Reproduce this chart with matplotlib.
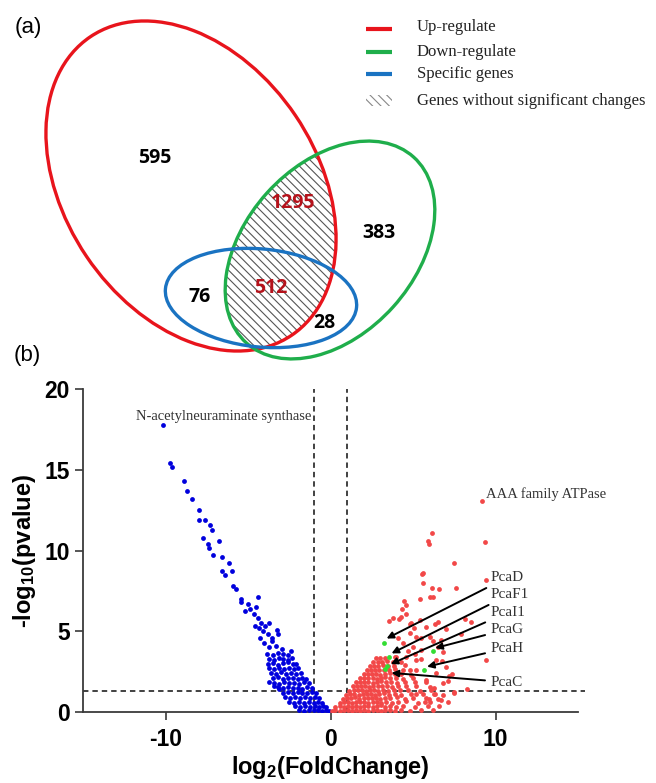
import matplotlib
matplotlib.use('Agg')
import matplotlib.pyplot as plt
from matplotlib.patches import Ellipse, Rectangle

plt.rcParams['axes.unicode_minus'] = False
plt.rcParams['hatch.linewidth'] = 0.8
plt.rcParams['mathtext.fontset'] = 'custom'
plt.rcParams['mathtext.rm'] = 'Liberation Sans:bold'
plt.rcParams['mathtext.default'] = 'regular'

# ---- panel (a) data: venn counts ----
venn_labels = ['595', '1295', '383', '76', '512', '28']
venn_colors = ['black', '#b5121b', 'black', 'black', '#b5121b', 'black']
legend_labels = ['Up-regulate', 'Down-regulate', 'Specific genes',
                 'Genes without significant changes']

# ---- panel (b) data: volcano points ----
blue_tail_x = [-10.15, -9.7, -9.6, -8.85, -8.7, -8.4, -7.95, -8.0, -7.6, -7.3,
               -7.75, -7.2, -7.4, -7.35, -6.75, -7.1, -6.55, -6.15, -6.55, -6.4,
               -5.95, -5.9, -5.75, -5.45, -5.4, -5.0, -5.2, -4.85, -4.65, -4.4,
               -4.5, -4.4, -4.2, -4.6, -4.35, -3.95, -3.7, -4.1, -3.8, -3.25,
               -3.2, -3.55, -3.75, -4.05, -3.3, -2.95, -3.7, -3.4, -3.1, -4.3,
               -2.4, -3.55]
blue_tail_y = [17.8, 15.4, 15.2, 14.3, 13.7, 13.2, 12.5, 11.9, 11.9, 11.6,
               10.8, 11.3, 10.4, 10.15, 10.6, 9.7, 9.6, 9.2, 8.7, 8.5,
               8.7, 7.8, 7.6, 7.0, 6.8, 6.7, 6.25, 6.35, 6.05, 7.1,
               6.5, 5.85, 5.5, 5.3, 5.2, 5.3, 5.5, 5.0, 4.8, 5.1,
               4.85, 4.4, 4.0, 4.3, 4.1, 3.9, 1.85, 1.6, 1.4, 4.6,
               3.8, 4.6]
blue_core_x = [-3.85, -3.5, -3.2, -2.9, -2.6,
               -3.75, -3.45, -3.15, -2.85, -2.55, -2.35,
               -3.8, -3.5, -3.2, -2.9, -2.6, -2.3, -2.1,
               -3.7, -3.4, -3.1, -2.8, -2.5, -2.2, -1.95,
               -3.6, -3.3, -3.0, -2.7, -2.4, -2.1, -1.8,
               -3.5, -3.2, -2.9, -2.6, -2.3, -2.0, -1.7, -1.5,
               -3.45, -3.1, -2.8, -2.5, -2.2, -1.9, -1.6, -1.3,
               -3.2, -2.9, -2.6, -2.3, -2.0, -1.7, -1.4, -1.1,
               -2.9, -2.6, -2.3, -2.0, -1.7, -1.4, -1.15, -0.9,
               -2.75, -2.45, -2.15, -1.85, -1.55, -1.25, -0.95, -0.7,
               -2.5, -2.2, -1.9, -1.6, -1.3, -1.0, -0.75, -0.5,
               -2.15, -1.85, -1.55, -1.25, -0.95, -0.7, -0.45, -0.25,
               -1.9, -1.6, -1.3, -1.0, -0.75, -0.5, -0.3, -0.1]
blue_core_y = [3.62, 3.55, 3.68, 3.58, 3.5,
               3.3, 3.24, 3.36, 3.28, 3.2, 3.35,
               2.98, 3.05, 2.94, 3.02, 3.08, 2.96, 3.0,
               2.72, 2.66, 2.75, 2.68, 2.74, 2.65, 2.7,
               2.42, 2.36, 2.45, 2.38, 2.4, 2.34, 2.41,
               2.08, 2.14, 2.05, 2.12, 2.1, 2.06, 2.13, 2.02,
               1.82, 1.76, 1.84, 1.78, 1.81, 1.75, 1.83, 1.77,
               1.52, 1.46, 1.55, 1.48, 1.51, 1.45, 1.53, 1.47,
               1.18, 1.24, 1.16, 1.22, 1.2, 1.15, 1.23, 1.17,
               0.92, 0.86, 0.94, 0.88, 0.9, 0.85, 0.93, 0.87,
               0.62, 0.56, 0.64, 0.58, 0.6, 0.55, 0.63, 0.57,
               0.36, 0.32, 0.38, 0.33, 0.35, 0.31, 0.37, 0.33,
               0.12, 0.09, 0.14, 0.1, 0.13, 0.08, 0.11, 0.06]

red_core_x = [0.1, 0.3, 0.55, 0.8, 1.05, 1.3, 1.55, 1.8, 2.05, 2.3, 2.55, 2.8, 3.05, 3.3, 3.6, 3.9, 4.3, 4.8, 5.5, 6.2,
              0.3, 0.55, 0.8, 1.05, 1.3, 1.55, 1.8, 2.05, 2.3, 2.55, 2.8, 3.05, 3.3, 3.6, 3.95, 4.4, 5.1, 5.9, 6.6,
              0.55, 0.8, 1.05, 1.3, 1.55, 1.8, 2.05, 2.3, 2.55, 2.8, 3.05, 3.35, 3.7, 4.1, 4.6, 5.3, 6.0, 7.1,
              0.75, 1.0, 1.25, 1.5, 1.75, 2.0, 2.25, 2.5, 2.75, 3.0, 3.3, 3.6, 4.0, 4.5, 5.0, 5.8, 6.5,
              0.95, 1.2, 1.45, 1.7, 1.95, 2.2, 2.45, 2.7, 2.95, 3.25, 3.55, 3.9, 4.3, 4.9, 5.6, 6.3, 7.5,
              1.15, 1.4, 1.65, 1.9, 2.15, 2.4, 2.65, 2.9, 3.2, 3.5, 3.85, 4.2, 4.7, 5.4, 6.1,
              1.35, 1.6, 1.85, 2.1, 2.35, 2.6, 2.85, 3.1, 3.4, 3.75, 4.1, 4.6, 5.2, 6.0,
              1.55, 1.8, 2.05, 2.3, 2.55, 2.8, 3.05, 3.35, 3.65, 4.0, 4.5, 5.1, 5.8,
              1.8, 2.05, 2.3, 2.55, 2.8, 3.05, 3.3, 3.6, 3.95, 4.4, 5.0,
              2.0, 2.25, 2.5, 2.75, 3.0, 3.3, 3.6, 3.9, 4.3, 4.9,
              2.2, 2.45, 2.7, 2.95, 3.25, 3.55, 3.9, 4.4, 5.2,
              2.4, 2.65, 2.9, 3.2, 3.5, 3.85, 4.5,
              2.6, 2.85, 3.1, 3.45, 3.8, 4.3,
              2.75, 3.0, 3.3, 3.9]
red_core_y = [0.05, 0.12, 0.08, 0.14, 0.1, 0.06, 0.13, 0.09, 0.15, 0.07, 0.11, 0.14, 0.08, 0.12, 0.1, 0.06, 0.13, 0.09, 0.15, 0.11,
              0.32, 0.38, 0.34, 0.4, 0.31, 0.37, 0.33, 0.39, 0.35, 0.3, 0.36, 0.41, 0.33, 0.38, 0.34, 0.4, 0.31, 0.37, 0.35,
              0.58, 0.63, 0.6, 0.56, 0.64, 0.59, 0.62, 0.57, 0.65, 0.6, 0.55, 0.63, 0.58, 0.61, 0.66, 0.57, 0.62, 0.6,
              0.83, 0.88, 0.85, 0.9, 0.82, 0.87, 0.84, 0.89, 0.86, 0.81, 0.88, 0.84, 0.9, 0.83, 0.87, 0.85, 0.82,
              1.08, 1.13, 1.1, 1.06, 1.14, 1.09, 1.12, 1.07, 1.11, 1.15, 1.08, 1.12, 1.06, 1.1, 1.14, 1.09, 1.2,
              1.33, 1.37, 1.34, 1.38, 1.32, 1.36, 1.39, 1.33, 1.35, 1.31, 1.37, 1.34, 1.38, 1.32, 1.36,
              1.58, 1.62, 1.59, 1.63, 1.57, 1.61, 1.64, 1.58, 1.6, 1.56, 1.62, 1.59, 1.63, 1.57,
              1.83, 1.87, 1.84, 1.88, 1.82, 1.86, 1.89, 1.83, 1.85, 1.81, 1.87, 1.84, 1.88,
              2.08, 2.12, 2.09, 2.13, 2.07, 2.11, 2.14, 2.08, 2.1, 2.06, 2.12,
              2.33, 2.37, 2.34, 2.38, 2.32, 2.36, 2.39, 2.33, 2.35, 2.31,
              2.58, 2.62, 2.59, 2.63, 2.57, 2.61, 2.64, 2.58, 2.6,
              2.83, 2.87, 2.84, 2.88, 2.82, 2.86, 2.89,
              3.08, 3.12, 3.09, 3.13, 3.07, 3.11,
              3.33, 3.37, 3.34, 3.38]
red_tail_x = [9.21, 9.36, 7.5, 7.58, 8.14, 7.9, 9.41, 7.38, 7.12, 8.27, 7.5, 6.36, 5.98,
              5.2, 6.8, 6.7, 5.7, 8.5, 9.4, 6.16, 5.9, 5.95, 5.6, 5.52, 5.6, 6.16,
              6.24, 6.6, 6.0, 5.4, 4.48, 4.55, 3.78, 4.28, 4.9, 5.4, 5.8, 6.5, 4.8,
              5.2, 6.0, 6.7, 4.37, 4.98, 5.5, 6.8, 3.98, 4.58, 5.2, 6.4, 7.0, 4.8,
              6.4, 7.2, 5.8, 6.8, 6.3, 4.33, 4.58, 3.56, 4.15, 4.83, 5.04, 6.36,
              7.0, 4.07, 4.7, 5.1, 5.47, 6.74, 5.47, 6.23, 6.5]
red_tail_y = [13.07, 10.5, 9.2, 7.7, 5.74, 4.82, 3.22, 2.36, 1.95, 1.44, 1.23, 1.13, 0.82,
              1.13, 1.03, 0.72, 0.6, 5.6, 8.2, 11.07, 10.6, 10.4, 8.6, 8.57, 8.0, 7.7,
              7.1, 7.6, 7.15, 7.0, 6.9, 6.6, 5.8, 5.9, 5.5, 5.7, 5.27, 5.6, 4.9,
              4.65, 4.65, 4.44, 4.25, 4.0, 3.83, 3.72, 3.41, 3.41, 3.2, 3.2, 2.8, 2.6,
              2.4, 2.2, 1.97, 1.8, 1.48, 6.36, 6.05, 5.64, 5.78, 5.44, 5.23, 5.44,
              5.13, 4.6, 3.8, 3.6, 3.28, 3.18, 4.6, 4.41, 4.0]

# Pca genes (green points), arrow tips and label heights
pca_x = [3.23, 3.56, 3.31, 3.42, 6.23, 5.65]
pca_y = [4.25, 3.43, 2.67, 2.82, 3.75, 2.6]
pca_names = ['PcaD', 'PcaF1', 'PcaI1', 'PcaG', 'PcaH', 'PcaC']
pca_tip_x = [3.4, 3.7, 3.65, 6.35, 5.85, 3.7]
pca_tip_y = [4.55, 3.63, 2.97, 3.96, 2.81, 2.42]
pca_label_y = [8.33, 7.28, 6.17, 5.12, 3.95, 1.85]

RED = '#e8141c'
GREEN = '#1fae4b'
BLUE = '#1a73c2'

fig = plt.figure(figsize=(6.56, 7.83), dpi=100)

# ---------------- (a) Venn, drawn in pixel coordinates ----------------
axv = fig.add_axes([0, 1 - 370 / 783, 1, 370 / 783])
axv.set_xlim(0, 656)
axv.set_ylim(370, 0)
axv.axis('off')

red_e = Ellipse((191, 186), 360, 252, angle=56, fill=False, ec=RED, lw=2.4, zorder=3)
green_e = Ellipse((330, 250), 250, 170, angle=-48, fill=False, ec=GREEN, lw=2.4, zorder=3)
blue_e = Ellipse((261, 298), 192, 98, angle=5.6, fill=False, ec=BLUE, lw=2.4, zorder=4)
for e in (red_e, green_e, blue_e):
    axv.add_patch(e)

hatch = Ellipse((330, 250), 250, 170, angle=-48, facecolor='none',
                edgecolor='#555555', lw=0, hatch='\\\\\\\\', zorder=2)
axv.add_patch(hatch)
hatch.set_clip_path(red_e)

venn_pos = [(155, 158), (293, 203), (379, 233), (200, 297), (271, 288), (324, 323)]
for (x, y), t, c in zip(venn_pos, venn_labels, venn_colors):
    axv.text(x, y, t, color=c, fontsize=14, fontweight='bold',
             family='Open Sans', ha='center', va='center', zorder=5)

# legend
for y, c in zip([29, 52, 74], [RED, GREEN, BLUE]):
    axv.plot([366, 392], [y, y], color=c, lw=3, solid_capstyle='butt')
axv.add_patch(Rectangle((366, 95), 26, 11, facecolor='none', edgecolor='#888888',
                        lw=0, hatch='\\\\\\\\'))
for y, t in zip([27, 52, 74, 101], legend_labels):
    axv.text(417, y, t, fontsize=12, family='Liberation Serif', color='#222222',
             ha='left', va='center')

fig.text(28 / 656, 1 - 27 / 783, '(a)', fontsize=16, family='Liberation Sans',
         ha='center', va='center')
fig.text(27 / 656, 1 - 356 / 783, '(b)', fontsize=16, family='Liberation Sans',
         ha='center', va='center')

# ---------------- (b) volcano plot ----------------
ax = fig.add_axes([83 / 656, 1 - 712 / 783, 495 / 656, 323 / 783])
ax.scatter(blue_tail_x + blue_core_x, blue_tail_y + blue_core_y, s=12,
           color='#0000dd', linewidths=0, zorder=3)
ax.scatter(red_core_x + red_tail_x, red_core_y + red_tail_y, s=12,
           color='#f24848', linewidths=0, zorder=3)
ax.scatter(pca_x, pca_y, s=12, color='#33dd33', linewidths=0, zorder=4)

dash = dict(color='#333333', lw=1.3, linestyle=(0, (3, 2.2)), zorder=2)
ax.plot([-1, -1], [0, 20], **dash)
ax.plot([1, 1], [0, 20], **dash)
ax.plot([-15, 15.4], [1.3, 1.3], clip_on=False, **dash)

for name, tx, ty, ly in zip(pca_names, pca_tip_x, pca_tip_y, pca_label_y):
    ax.annotate(name, xy=(tx, ty), xytext=(9.7, ly), fontsize=11,
                family='Liberation Serif', color='#333333', va='center', ha='left',
                arrowprops=dict(arrowstyle='-|>', color='black', lw=1.4,
                                mutation_scale=10, shrinkA=2, shrinkB=0), zorder=5)

ax.text(-1.15, 18.3, 'N-acetylneuraminate synthase', fontsize=10.5,
        family='Liberation Serif', color='#333333', ha='right', va='center')
ax.text(9.45, 13.5, 'AAA family ATPase', fontsize=10.5,
        family='Liberation Serif', color='#333333', ha='left', va='center')

ax.set_xlim(-15, 15)
ax.set_ylim(0, 20)
ax.set_xticks([-10, 0, 10])
ax.set_yticks([0, 5, 10, 15, 20])
for s in ('top', 'right'):
    ax.spines[s].set_visible(False)
for s in ('left', 'bottom'):
    ax.spines[s].set_linewidth(1.3)
    ax.spines[s].set_color('#3a3a3a')
ax.tick_params(axis='both', length=5.5, width=1.2, color='#3a3a3a', labelsize=16.5)
ax.tick_params(axis='x', pad=6)
ax.tick_params(axis='y', pad=4)
for lab in ax.get_xticklabels() + ax.get_yticklabels():
    lab.set_fontweight('bold')
    lab.set_family('Liberation Sans')

ax.set_xlabel('log$_2$(FoldChange)', fontsize=17, fontweight='bold', family='Liberation Sans')
ax.set_ylabel('-log$_{10}$(pvalue)', fontsize=17, fontweight='bold', family='Liberation Sans')
ax.xaxis.set_label_coords(0.5, -0.13)
ax.yaxis.set_label_coords(-0.09, 0.5)

fig.savefig('out.png', dpi=100)
